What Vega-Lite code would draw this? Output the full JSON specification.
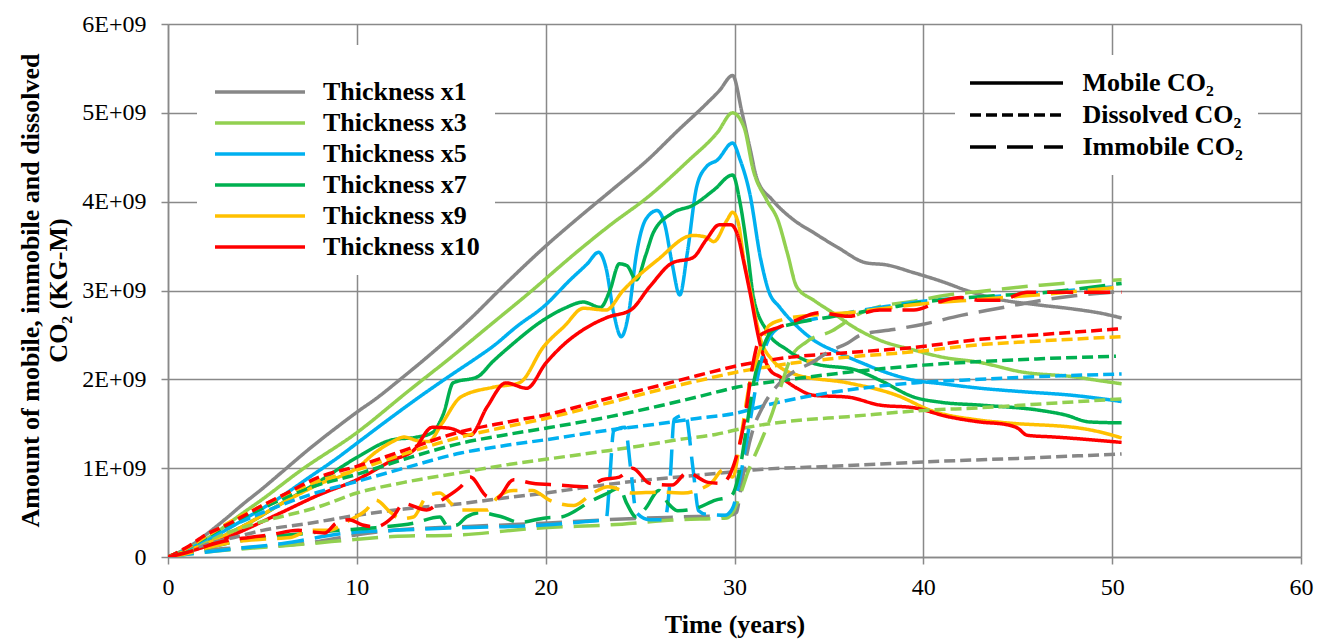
{
"$schema":"https://vega.github.io/schema/vega-lite/v6.json",
"width":1133,"height":533,
"autosize":{"type":"none"},
"padding":{"left":168,"top":24,"right":17,"bottom":82},
"background":"white",
"config":{"view":{"stroke":null},"font":"Liberation Serif"},
"datasets":{"pts":[
{"thick":"x1","type":"Mobile","t":0,"co2":0},{"thick":"x1","type":"Mobile","t":1,"co2":0.1},{"thick":"x1","type":"Mobile","t":2,"co2":0.25},{"thick":"x1","type":"Mobile","t":3,"co2":0.42},{"thick":"x1","type":"Mobile","t":4,"co2":0.6},{"thick":"x1","type":"Mobile","t":5,"co2":0.77},{"thick":"x1","type":"Mobile","t":6,"co2":0.95},{"thick":"x1","type":"Mobile","t":7.5,"co2":1.22},{"thick":"x1","type":"Mobile","t":9,"co2":1.47},{"thick":"x1","type":"Mobile","t":10,"co2":1.63},{"thick":"x1","type":"Mobile","t":11,"co2":1.78},{"thick":"x1","type":"Mobile","t":12.3,"co2":2.0},{"thick":"x1","type":"Mobile","t":14,"co2":2.3},{"thick":"x1","type":"Mobile","t":16,"co2":2.68},{"thick":"x1","type":"Mobile","t":18,"co2":3.1},{"thick":"x1","type":"Mobile","t":20,"co2":3.5},{"thick":"x1","type":"Mobile","t":21.8,"co2":3.83},{"thick":"x1","type":"Mobile","t":23.5,"co2":4.13},{"thick":"x1","type":"Mobile","t":25.4,"co2":4.47},{"thick":"x1","type":"Mobile","t":27,"co2":4.8},{"thick":"x1","type":"Mobile","t":28.5,"co2":5.1},{"thick":"x1","type":"Mobile","t":29.2,"co2":5.25},{"thick":"x1","type":"Mobile","t":29.9,"co2":5.42},{"thick":"x1","type":"Mobile","t":30.4,"co2":5.0},{"thick":"x1","type":"Mobile","t":30.8,"co2":4.62},{"thick":"x1","type":"Mobile","t":31.2,"co2":4.25},{"thick":"x1","type":"Mobile","t":32,"co2":4.02},{"thick":"x1","type":"Mobile","t":33.1,"co2":3.8},{"thick":"x1","type":"Mobile","t":34.2,"co2":3.65},{"thick":"x1","type":"Mobile","t":35.5,"co2":3.48},{"thick":"x1","type":"Mobile","t":37,"co2":3.31},{"thick":"x1","type":"Mobile","t":38,"co2":3.29},{"thick":"x1","type":"Mobile","t":39.5,"co2":3.2},{"thick":"x1","type":"Mobile","t":41,"co2":3.1},{"thick":"x1","type":"Mobile","t":42.3,"co2":3.0},{"thick":"x1","type":"Mobile","t":44,"co2":2.9},{"thick":"x1","type":"Mobile","t":46,"co2":2.84},{"thick":"x1","type":"Mobile","t":48,"co2":2.79},{"thick":"x1","type":"Mobile","t":49.5,"co2":2.74},{"thick":"x1","type":"Mobile","t":50.5,"co2":2.69},
{"thick":"x3","type":"Mobile","t":0,"co2":0},{"thick":"x3","type":"Mobile","t":2,"co2":0.2},{"thick":"x3","type":"Mobile","t":4,"co2":0.5},{"thick":"x3","type":"Mobile","t":5,"co2":0.65},{"thick":"x3","type":"Mobile","t":7,"co2":0.97},{"thick":"x3","type":"Mobile","t":10,"co2":1.4},{"thick":"x3","type":"Mobile","t":12.8,"co2":1.88},{"thick":"x3","type":"Mobile","t":15,"co2":2.25},{"thick":"x3","type":"Mobile","t":17,"co2":2.6},{"thick":"x3","type":"Mobile","t":19,"co2":2.95},{"thick":"x3","type":"Mobile","t":21.8,"co2":3.46},{"thick":"x3","type":"Mobile","t":23.5,"co2":3.75},{"thick":"x3","type":"Mobile","t":25.4,"co2":4.05},{"thick":"x3","type":"Mobile","t":27.5,"co2":4.45},{"thick":"x3","type":"Mobile","t":29.1,"co2":4.78},{"thick":"x3","type":"Mobile","t":29.9,"co2":5.0},{"thick":"x3","type":"Mobile","t":30.5,"co2":4.84},{"thick":"x3","type":"Mobile","t":31,"co2":4.35},{"thick":"x3","type":"Mobile","t":31.7,"co2":4.02},{"thick":"x3","type":"Mobile","t":32.3,"co2":3.79},{"thick":"x3","type":"Mobile","t":32.8,"co2":3.42},{"thick":"x3","type":"Mobile","t":33.3,"co2":3.04},{"thick":"x3","type":"Mobile","t":34.2,"co2":2.89},{"thick":"x3","type":"Mobile","t":35.2,"co2":2.75},{"thick":"x3","type":"Mobile","t":36.3,"co2":2.59},{"thick":"x3","type":"Mobile","t":37.7,"co2":2.44},{"thick":"x3","type":"Mobile","t":39.5,"co2":2.33},{"thick":"x3","type":"Mobile","t":41,"co2":2.25},{"thick":"x3","type":"Mobile","t":43,"co2":2.19},{"thick":"x3","type":"Mobile","t":45.3,"co2":2.08},{"thick":"x3","type":"Mobile","t":47.9,"co2":2.03},{"thick":"x3","type":"Mobile","t":49.5,"co2":1.98},{"thick":"x3","type":"Mobile","t":50.5,"co2":1.95},
{"thick":"x5","type":"Mobile","t":0,"co2":0},{"thick":"x5","type":"Mobile","t":2,"co2":0.18},{"thick":"x5","type":"Mobile","t":4,"co2":0.42},{"thick":"x5","type":"Mobile","t":6,"co2":0.68},{"thick":"x5","type":"Mobile","t":7.5,"co2":0.9},{"thick":"x5","type":"Mobile","t":9,"co2":1.12},{"thick":"x5","type":"Mobile","t":10,"co2":1.28},{"thick":"x5","type":"Mobile","t":11.5,"co2":1.52},{"thick":"x5","type":"Mobile","t":13.3,"co2":1.8},{"thick":"x5","type":"Mobile","t":15,"co2":2.05},{"thick":"x5","type":"Mobile","t":16.4,"co2":2.25},{"thick":"x5","type":"Mobile","t":17.2,"co2":2.37},{"thick":"x5","type":"Mobile","t":18.5,"co2":2.6},{"thick":"x5","type":"Mobile","t":19.9,"co2":2.82},{"thick":"x5","type":"Mobile","t":21.3,"co2":3.12},{"thick":"x5","type":"Mobile","t":22.2,"co2":3.3},{"thick":"x5","type":"Mobile","t":22.8,"co2":3.43},{"thick":"x5","type":"Mobile","t":23.2,"co2":3.25},{"thick":"x5","type":"Mobile","t":23.6,"co2":2.75},{"thick":"x5","type":"Mobile","t":24,"co2":2.48},{"thick":"x5","type":"Mobile","t":24.4,"co2":2.75},{"thick":"x5","type":"Mobile","t":24.8,"co2":3.4},{"thick":"x5","type":"Mobile","t":25.3,"co2":3.8},{"thick":"x5","type":"Mobile","t":25.9,"co2":3.9},{"thick":"x5","type":"Mobile","t":26.3,"co2":3.75},{"thick":"x5","type":"Mobile","t":26.7,"co2":3.3},{"thick":"x5","type":"Mobile","t":27.1,"co2":2.95},{"thick":"x5","type":"Mobile","t":27.5,"co2":3.42},{"thick":"x5","type":"Mobile","t":28,"co2":4.17},{"thick":"x5","type":"Mobile","t":28.5,"co2":4.39},{"thick":"x5","type":"Mobile","t":29.1,"co2":4.47},{"thick":"x5","type":"Mobile","t":29.9,"co2":4.66},{"thick":"x5","type":"Mobile","t":30.3,"co2":4.47},{"thick":"x5","type":"Mobile","t":30.8,"co2":4.1},{"thick":"x5","type":"Mobile","t":31.4,"co2":3.34},{"thick":"x5","type":"Mobile","t":31.8,"co2":3.0},{"thick":"x5","type":"Mobile","t":32.4,"co2":2.81},{"thick":"x5","type":"Mobile","t":33.3,"co2":2.6},{"thick":"x5","type":"Mobile","t":34.2,"co2":2.44},{"thick":"x5","type":"Mobile","t":35.5,"co2":2.3},{"thick":"x5","type":"Mobile","t":36.8,"co2":2.18},{"thick":"x5","type":"Mobile","t":38,"co2":2.08},{"thick":"x5","type":"Mobile","t":39.5,"co2":1.99},{"thick":"x5","type":"Mobile","t":41,"co2":1.95},{"thick":"x5","type":"Mobile","t":43,"co2":1.9},{"thick":"x5","type":"Mobile","t":45.3,"co2":1.86},{"thick":"x5","type":"Mobile","t":47.9,"co2":1.82},{"thick":"x5","type":"Mobile","t":49.5,"co2":1.78},{"thick":"x5","type":"Mobile","t":50.5,"co2":1.75},
{"thick":"x7","type":"Mobile","t":0,"co2":0},{"thick":"x7","type":"Mobile","t":2,"co2":0.15},{"thick":"x7","type":"Mobile","t":4,"co2":0.35},{"thick":"x7","type":"Mobile","t":6,"co2":0.6},{"thick":"x7","type":"Mobile","t":8,"co2":0.85},{"thick":"x7","type":"Mobile","t":10,"co2":1.12},{"thick":"x7","type":"Mobile","t":11.9,"co2":1.32},{"thick":"x7","type":"Mobile","t":13.2,"co2":1.35},{"thick":"x7","type":"Mobile","t":14,"co2":1.4},{"thick":"x7","type":"Mobile","t":14.6,"co2":1.62},{"thick":"x7","type":"Mobile","t":15.1,"co2":1.96},{"thick":"x7","type":"Mobile","t":16.4,"co2":2.03},{"thick":"x7","type":"Mobile","t":17.2,"co2":2.2},{"thick":"x7","type":"Mobile","t":18.1,"co2":2.37},{"thick":"x7","type":"Mobile","t":19.9,"co2":2.67},{"thick":"x7","type":"Mobile","t":21,"co2":2.8},{"thick":"x7","type":"Mobile","t":22,"co2":2.87},{"thick":"x7","type":"Mobile","t":22.9,"co2":2.81},{"thick":"x7","type":"Mobile","t":23.4,"co2":3.0},{"thick":"x7","type":"Mobile","t":23.9,"co2":3.3},{"thick":"x7","type":"Mobile","t":24.3,"co2":3.28},{"thick":"x7","type":"Mobile","t":24.8,"co2":3.12},{"thick":"x7","type":"Mobile","t":25.3,"co2":3.4},{"thick":"x7","type":"Mobile","t":25.7,"co2":3.65},{"thick":"x7","type":"Mobile","t":26.7,"co2":3.87},{"thick":"x7","type":"Mobile","t":27.8,"co2":3.96},{"thick":"x7","type":"Mobile","t":28.9,"co2":4.13},{"thick":"x7","type":"Mobile","t":29.9,"co2":4.3},{"thick":"x7","type":"Mobile","t":30.3,"co2":3.98},{"thick":"x7","type":"Mobile","t":30.7,"co2":3.42},{"thick":"x7","type":"Mobile","t":31,"co2":2.93},{"thick":"x7","type":"Mobile","t":31.7,"co2":2.55},{"thick":"x7","type":"Mobile","t":32.8,"co2":2.33},{"thick":"x7","type":"Mobile","t":34.2,"co2":2.18},{"thick":"x7","type":"Mobile","t":36.5,"co2":2.1},{"thick":"x7","type":"Mobile","t":37.7,"co2":1.99},{"thick":"x7","type":"Mobile","t":39.5,"co2":1.8},{"thick":"x7","type":"Mobile","t":41,"co2":1.74},{"thick":"x7","type":"Mobile","t":43,"co2":1.71},{"thick":"x7","type":"Mobile","t":46.2,"co2":1.65},{"thick":"x7","type":"Mobile","t":47.5,"co2":1.6},{"thick":"x7","type":"Mobile","t":48.8,"co2":1.52},{"thick":"x7","type":"Mobile","t":50.5,"co2":1.51},
{"thick":"x9","type":"Mobile","t":0,"co2":0},{"thick":"x9","type":"Mobile","t":2,"co2":0.15},{"thick":"x9","type":"Mobile","t":4,"co2":0.35},{"thick":"x9","type":"Mobile","t":6,"co2":0.6},{"thick":"x9","type":"Mobile","t":8,"co2":0.82},{"thick":"x9","type":"Mobile","t":10,"co2":1.0},{"thick":"x9","type":"Mobile","t":11,"co2":1.18},{"thick":"x9","type":"Mobile","t":11.9,"co2":1.3},{"thick":"x9","type":"Mobile","t":12.5,"co2":1.35},{"thick":"x9","type":"Mobile","t":13.2,"co2":1.31},{"thick":"x9","type":"Mobile","t":13.8,"co2":1.3},{"thick":"x9","type":"Mobile","t":14.5,"co2":1.5},{"thick":"x9","type":"Mobile","t":15.5,"co2":1.8},{"thick":"x9","type":"Mobile","t":17.2,"co2":1.91},{"thick":"x9","type":"Mobile","t":18.6,"co2":1.96},{"thick":"x9","type":"Mobile","t":19.9,"co2":2.37},{"thick":"x9","type":"Mobile","t":21,"co2":2.6},{"thick":"x9","type":"Mobile","t":22,"co2":2.8},{"thick":"x9","type":"Mobile","t":23.2,"co2":2.78},{"thick":"x9","type":"Mobile","t":24.1,"co2":3.0},{"thick":"x9","type":"Mobile","t":25.9,"co2":3.34},{"thick":"x9","type":"Mobile","t":27.8,"co2":3.62},{"thick":"x9","type":"Mobile","t":28.5,"co2":3.6},{"thick":"x9","type":"Mobile","t":28.9,"co2":3.55},{"thick":"x9","type":"Mobile","t":29.6,"co2":3.79},{"thick":"x9","type":"Mobile","t":29.9,"co2":3.88},{"thick":"x9","type":"Mobile","t":30.2,"co2":3.76},{"thick":"x9","type":"Mobile","t":30.5,"co2":3.34},{"thick":"x9","type":"Mobile","t":30.8,"co2":3.04},{"thick":"x9","type":"Mobile","t":31.4,"co2":2.44},{"thick":"x9","type":"Mobile","t":32,"co2":2.22},{"thick":"x9","type":"Mobile","t":33.3,"co2":2.05},{"thick":"x9","type":"Mobile","t":36,"co2":1.96},{"thick":"x9","type":"Mobile","t":38.6,"co2":1.82},{"thick":"x9","type":"Mobile","t":40.4,"co2":1.65},{"thick":"x9","type":"Mobile","t":43,"co2":1.54},{"thick":"x9","type":"Mobile","t":44.4,"co2":1.51},{"thick":"x9","type":"Mobile","t":48.3,"co2":1.45},{"thick":"x9","type":"Mobile","t":49.5,"co2":1.4},{"thick":"x9","type":"Mobile","t":50.5,"co2":1.34},
{"thick":"x10","type":"Mobile","t":0,"co2":0},{"thick":"x10","type":"Mobile","t":2,"co2":0.12},{"thick":"x10","type":"Mobile","t":4,"co2":0.3},{"thick":"x10","type":"Mobile","t":6,"co2":0.5},{"thick":"x10","type":"Mobile","t":8,"co2":0.7},{"thick":"x10","type":"Mobile","t":10,"co2":0.87},{"thick":"x10","type":"Mobile","t":11.9,"co2":1.09},{"thick":"x10","type":"Mobile","t":13,"co2":1.2},{"thick":"x10","type":"Mobile","t":14,"co2":1.46},{"thick":"x10","type":"Mobile","t":14.9,"co2":1.45},{"thick":"x10","type":"Mobile","t":16,"co2":1.37},{"thick":"x10","type":"Mobile","t":16.9,"co2":1.69},{"thick":"x10","type":"Mobile","t":17.9,"co2":1.96},{"thick":"x10","type":"Mobile","t":19,"co2":1.9},{"thick":"x10","type":"Mobile","t":20,"co2":2.18},{"thick":"x10","type":"Mobile","t":21,"co2":2.4},{"thick":"x10","type":"Mobile","t":22,"co2":2.56},{"thick":"x10","type":"Mobile","t":23.3,"co2":2.7},{"thick":"x10","type":"Mobile","t":24.5,"co2":2.78},{"thick":"x10","type":"Mobile","t":25.5,"co2":3.04},{"thick":"x10","type":"Mobile","t":26.7,"co2":3.31},{"thick":"x10","type":"Mobile","t":27.8,"co2":3.37},{"thick":"x10","type":"Mobile","t":28.5,"co2":3.57},{"thick":"x10","type":"Mobile","t":29.2,"co2":3.74},{"thick":"x10","type":"Mobile","t":29.8,"co2":3.74},{"thick":"x10","type":"Mobile","t":30.2,"co2":3.6},{"thick":"x10","type":"Mobile","t":30.5,"co2":3.31},{"thick":"x10","type":"Mobile","t":30.8,"co2":3.0},{"thick":"x10","type":"Mobile","t":31.4,"co2":2.36},{"thick":"x10","type":"Mobile","t":31.9,"co2":2.1},{"thick":"x10","type":"Mobile","t":32.4,"co2":2.03},{"thick":"x10","type":"Mobile","t":33.3,"co2":1.9},{"thick":"x10","type":"Mobile","t":34.2,"co2":1.82},{"thick":"x10","type":"Mobile","t":36,"co2":1.8},{"thick":"x10","type":"Mobile","t":37.7,"co2":1.71},{"thick":"x10","type":"Mobile","t":39.5,"co2":1.68},{"thick":"x10","type":"Mobile","t":41.3,"co2":1.58},{"thick":"x10","type":"Mobile","t":43,"co2":1.52},{"thick":"x10","type":"Mobile","t":44.4,"co2":1.49},{"thick":"x10","type":"Mobile","t":45,"co2":1.45},{"thick":"x10","type":"Mobile","t":45.5,"co2":1.37},{"thick":"x10","type":"Mobile","t":47,"co2":1.35},{"thick":"x10","type":"Mobile","t":50.5,"co2":1.29},
{"thick":"x1","type":"Dissolved","t":0,"co2":0},{"thick":"x1","type":"Dissolved","t":1,"co2":0.07},{"thick":"x1","type":"Dissolved","t":2,"co2":0.14},{"thick":"x1","type":"Dissolved","t":3.5,"co2":0.22},{"thick":"x1","type":"Dissolved","t":5,"co2":0.3},{"thick":"x1","type":"Dissolved","t":7.5,"co2":0.38},{"thick":"x1","type":"Dissolved","t":10,"co2":0.47},{"thick":"x1","type":"Dissolved","t":12.5,"co2":0.54},{"thick":"x1","type":"Dissolved","t":15.5,"co2":0.6},{"thick":"x1","type":"Dissolved","t":18,"co2":0.67},{"thick":"x1","type":"Dissolved","t":20,"co2":0.72},{"thick":"x1","type":"Dissolved","t":22,"co2":0.78},{"thick":"x1","type":"Dissolved","t":25,"co2":0.86},{"thick":"x1","type":"Dissolved","t":28,"co2":0.92},{"thick":"x1","type":"Dissolved","t":30,"co2":0.96},{"thick":"x1","type":"Dissolved","t":31,"co2":0.98},{"thick":"x1","type":"Dissolved","t":35,"co2":1.02},{"thick":"x1","type":"Dissolved","t":40,"co2":1.07},{"thick":"x1","type":"Dissolved","t":45,"co2":1.11},{"thick":"x1","type":"Dissolved","t":50.5,"co2":1.16},
{"thick":"x3","type":"Dissolved","t":0,"co2":0},{"thick":"x3","type":"Dissolved","t":1,"co2":0.08},{"thick":"x3","type":"Dissolved","t":2,"co2":0.18},{"thick":"x3","type":"Dissolved","t":3.5,"co2":0.3},{"thick":"x3","type":"Dissolved","t":5,"co2":0.4},{"thick":"x3","type":"Dissolved","t":7.9,"co2":0.56},{"thick":"x3","type":"Dissolved","t":10,"co2":0.72},{"thick":"x3","type":"Dissolved","t":12.5,"co2":0.84},{"thick":"x3","type":"Dissolved","t":15.5,"co2":0.95},{"thick":"x3","type":"Dissolved","t":18,"co2":1.04},{"thick":"x3","type":"Dissolved","t":20,"co2":1.1},{"thick":"x3","type":"Dissolved","t":23.4,"co2":1.2},{"thick":"x3","type":"Dissolved","t":25,"co2":1.25},{"thick":"x3","type":"Dissolved","t":27,"co2":1.32},{"thick":"x3","type":"Dissolved","t":29,"co2":1.38},{"thick":"x3","type":"Dissolved","t":30.7,"co2":1.46},{"thick":"x3","type":"Dissolved","t":33,"co2":1.53},{"thick":"x3","type":"Dissolved","t":36,"co2":1.58},{"thick":"x3","type":"Dissolved","t":40,"co2":1.65},{"thick":"x3","type":"Dissolved","t":43,"co2":1.68},{"thick":"x3","type":"Dissolved","t":46,"co2":1.72},{"thick":"x3","type":"Dissolved","t":50.5,"co2":1.78},
{"thick":"x5","type":"Dissolved","t":0,"co2":0},{"thick":"x5","type":"Dissolved","t":1,"co2":0.09},{"thick":"x5","type":"Dissolved","t":2,"co2":0.2},{"thick":"x5","type":"Dissolved","t":3.5,"co2":0.36},{"thick":"x5","type":"Dissolved","t":5,"co2":0.5},{"thick":"x5","type":"Dissolved","t":7.5,"co2":0.7},{"thick":"x5","type":"Dissolved","t":10,"co2":0.85},{"thick":"x5","type":"Dissolved","t":12.5,"co2":1.0},{"thick":"x5","type":"Dissolved","t":15.5,"co2":1.17},{"thick":"x5","type":"Dissolved","t":18,"co2":1.26},{"thick":"x5","type":"Dissolved","t":20,"co2":1.32},{"thick":"x5","type":"Dissolved","t":23.4,"co2":1.43},{"thick":"x5","type":"Dissolved","t":26,"co2":1.5},{"thick":"x5","type":"Dissolved","t":28,"co2":1.56},{"thick":"x5","type":"Dissolved","t":30.1,"co2":1.62},{"thick":"x5","type":"Dissolved","t":31.7,"co2":1.71},{"thick":"x5","type":"Dissolved","t":34.2,"co2":1.82},{"thick":"x5","type":"Dissolved","t":36,"co2":1.88},{"thick":"x5","type":"Dissolved","t":39.5,"co2":1.96},{"thick":"x5","type":"Dissolved","t":43,"co2":2.0},{"thick":"x5","type":"Dissolved","t":46,"co2":2.03},{"thick":"x5","type":"Dissolved","t":50.5,"co2":2.06},
{"thick":"x7","type":"Dissolved","t":0,"co2":0},{"thick":"x7","type":"Dissolved","t":1,"co2":0.1},{"thick":"x7","type":"Dissolved","t":2,"co2":0.22},{"thick":"x7","type":"Dissolved","t":3.5,"co2":0.4},{"thick":"x7","type":"Dissolved","t":5,"co2":0.55},{"thick":"x7","type":"Dissolved","t":7.5,"co2":0.78},{"thick":"x7","type":"Dissolved","t":10,"co2":0.93},{"thick":"x7","type":"Dissolved","t":12.5,"co2":1.1},{"thick":"x7","type":"Dissolved","t":15.5,"co2":1.28},{"thick":"x7","type":"Dissolved","t":18,"co2":1.38},{"thick":"x7","type":"Dissolved","t":20,"co2":1.45},{"thick":"x7","type":"Dissolved","t":23.4,"co2":1.58},{"thick":"x7","type":"Dissolved","t":26,"co2":1.7},{"thick":"x7","type":"Dissolved","t":28,"co2":1.8},{"thick":"x7","type":"Dissolved","t":30.1,"co2":1.91},{"thick":"x7","type":"Dissolved","t":33,"co2":2.0},{"thick":"x7","type":"Dissolved","t":36,"co2":2.08},{"thick":"x7","type":"Dissolved","t":40,"co2":2.16},{"thick":"x7","type":"Dissolved","t":43,"co2":2.2},{"thick":"x7","type":"Dissolved","t":46,"co2":2.23},{"thick":"x7","type":"Dissolved","t":50.2,"co2":2.26},
{"thick":"x9","type":"Dissolved","t":0,"co2":0},{"thick":"x9","type":"Dissolved","t":1,"co2":0.1},{"thick":"x9","type":"Dissolved","t":2,"co2":0.23},{"thick":"x9","type":"Dissolved","t":3.5,"co2":0.42},{"thick":"x9","type":"Dissolved","t":5,"co2":0.58},{"thick":"x9","type":"Dissolved","t":7.5,"co2":0.82},{"thick":"x9","type":"Dissolved","t":10,"co2":0.98},{"thick":"x9","type":"Dissolved","t":12.5,"co2":1.16},{"thick":"x9","type":"Dissolved","t":15.5,"co2":1.35},{"thick":"x9","type":"Dissolved","t":18,"co2":1.47},{"thick":"x9","type":"Dissolved","t":20,"co2":1.56},{"thick":"x9","type":"Dissolved","t":23.4,"co2":1.74},{"thick":"x9","type":"Dissolved","t":26,"co2":1.88},{"thick":"x9","type":"Dissolved","t":28,"co2":1.98},{"thick":"x9","type":"Dissolved","t":30.1,"co2":2.08},{"thick":"x9","type":"Dissolved","t":33,"co2":2.18},{"thick":"x9","type":"Dissolved","t":36,"co2":2.25},{"thick":"x9","type":"Dissolved","t":39.5,"co2":2.31},{"thick":"x9","type":"Dissolved","t":43,"co2":2.39},{"thick":"x9","type":"Dissolved","t":46,"co2":2.43},{"thick":"x9","type":"Dissolved","t":50.5,"co2":2.48},
{"thick":"x10","type":"Dissolved","t":0,"co2":0},{"thick":"x10","type":"Dissolved","t":1,"co2":0.11},{"thick":"x10","type":"Dissolved","t":2,"co2":0.25},{"thick":"x10","type":"Dissolved","t":3.1,"co2":0.36},{"thick":"x10","type":"Dissolved","t":5,"co2":0.58},{"thick":"x10","type":"Dissolved","t":6.3,"co2":0.72},{"thick":"x10","type":"Dissolved","t":8,"co2":0.9},{"thick":"x10","type":"Dissolved","t":10,"co2":1.02},{"thick":"x10","type":"Dissolved","t":12.5,"co2":1.2},{"thick":"x10","type":"Dissolved","t":15.5,"co2":1.41},{"thick":"x10","type":"Dissolved","t":18,"co2":1.52},{"thick":"x10","type":"Dissolved","t":20,"co2":1.6},{"thick":"x10","type":"Dissolved","t":23.4,"co2":1.79},{"thick":"x10","type":"Dissolved","t":26,"co2":1.93},{"thick":"x10","type":"Dissolved","t":28,"co2":2.04},{"thick":"x10","type":"Dissolved","t":30.1,"co2":2.15},{"thick":"x10","type":"Dissolved","t":33,"co2":2.25},{"thick":"x10","type":"Dissolved","t":36,"co2":2.3},{"thick":"x10","type":"Dissolved","t":39.5,"co2":2.36},{"thick":"x10","type":"Dissolved","t":43,"co2":2.45},{"thick":"x10","type":"Dissolved","t":46,"co2":2.5},{"thick":"x10","type":"Dissolved","t":50.5,"co2":2.57},
{"thick":"x1","type":"Immobile","t":0,"co2":0},{"thick":"x1","type":"Immobile","t":1,"co2":0.04},{"thick":"x1","type":"Immobile","t":2.2,"co2":0.08},{"thick":"x1","type":"Immobile","t":4.5,"co2":0.11},{"thick":"x1","type":"Immobile","t":7.5,"co2":0.16},{"thick":"x1","type":"Immobile","t":10,"co2":0.25},{"thick":"x1","type":"Immobile","t":11.9,"co2":0.3},{"thick":"x1","type":"Immobile","t":15.5,"co2":0.34},{"thick":"x1","type":"Immobile","t":19.9,"co2":0.38},{"thick":"x1","type":"Immobile","t":23.3,"co2":0.42},{"thick":"x1","type":"Immobile","t":27,"co2":0.45},{"thick":"x1","type":"Immobile","t":29.8,"co2":0.47},{"thick":"x1","type":"Immobile","t":30.1,"co2":0.5},{"thick":"x1","type":"Immobile","t":30.3,"co2":0.72},{"thick":"x1","type":"Immobile","t":30.6,"co2":1.1},{"thick":"x1","type":"Immobile","t":31,"co2":1.45},{"thick":"x1","type":"Immobile","t":31.4,"co2":1.65},{"thick":"x1","type":"Immobile","t":32.4,"co2":1.96},{"thick":"x1","type":"Immobile","t":33.1,"co2":2.08},{"thick":"x1","type":"Immobile","t":34.2,"co2":2.2},{"thick":"x1","type":"Immobile","t":34.9,"co2":2.3},{"thick":"x1","type":"Immobile","t":36,"co2":2.41},{"thick":"x1","type":"Immobile","t":36.7,"co2":2.5},{"thick":"x1","type":"Immobile","t":38.4,"co2":2.56},{"thick":"x1","type":"Immobile","t":40,"co2":2.62},{"thick":"x1","type":"Immobile","t":42,"co2":2.72},{"thick":"x1","type":"Immobile","t":44,"co2":2.8},{"thick":"x1","type":"Immobile","t":46,"co2":2.88},{"thick":"x1","type":"Immobile","t":48,"co2":2.94},{"thick":"x1","type":"Immobile","t":50.5,"co2":2.99},
{"thick":"x3","type":"Immobile","t":0,"co2":0},{"thick":"x3","type":"Immobile","t":1,"co2":0.03},{"thick":"x3","type":"Immobile","t":2.2,"co2":0.06},{"thick":"x3","type":"Immobile","t":4.5,"co2":0.1},{"thick":"x3","type":"Immobile","t":7.5,"co2":0.15},{"thick":"x3","type":"Immobile","t":10,"co2":0.2},{"thick":"x3","type":"Immobile","t":11.9,"co2":0.23},{"thick":"x3","type":"Immobile","t":15.5,"co2":0.25},{"thick":"x3","type":"Immobile","t":19.9,"co2":0.33},{"thick":"x3","type":"Immobile","t":23.3,"co2":0.36},{"thick":"x3","type":"Immobile","t":27.1,"co2":0.42},{"thick":"x3","type":"Immobile","t":29.6,"co2":0.44},{"thick":"x3","type":"Immobile","t":29.9,"co2":0.5},{"thick":"x3","type":"Immobile","t":30.3,"co2":0.7},{"thick":"x3","type":"Immobile","t":30.7,"co2":0.95},{"thick":"x3","type":"Immobile","t":31.4,"co2":1.3},{"thick":"x3","type":"Immobile","t":32,"co2":1.62},{"thick":"x3","type":"Immobile","t":32.5,"co2":1.95},{"thick":"x3","type":"Immobile","t":33,"co2":2.25},{"thick":"x3","type":"Immobile","t":33.8,"co2":2.42},{"thick":"x3","type":"Immobile","t":35.2,"co2":2.55},{"thick":"x3","type":"Immobile","t":36,"co2":2.66},{"thick":"x3","type":"Immobile","t":36.8,"co2":2.76},{"thick":"x3","type":"Immobile","t":37.7,"co2":2.82},{"thick":"x3","type":"Immobile","t":39.5,"co2":2.88},{"thick":"x3","type":"Immobile","t":41.3,"co2":2.95},{"thick":"x3","type":"Immobile","t":43,"co2":2.99},{"thick":"x3","type":"Immobile","t":46.2,"co2":3.06},{"thick":"x3","type":"Immobile","t":48,"co2":3.09},{"thick":"x3","type":"Immobile","t":50.5,"co2":3.12},
{"thick":"x5","type":"Immobile","t":0,"co2":0},{"thick":"x5","type":"Immobile","t":1,"co2":0.03},{"thick":"x5","type":"Immobile","t":3,"co2":0.08},{"thick":"x5","type":"Immobile","t":6,"co2":0.15},{"thick":"x5","type":"Immobile","t":9.5,"co2":0.27},{"thick":"x5","type":"Immobile","t":12,"co2":0.3},{"thick":"x5","type":"Immobile","t":15.5,"co2":0.33},{"thick":"x5","type":"Immobile","t":19.9,"co2":0.36},{"thick":"x5","type":"Immobile","t":22.2,"co2":0.4},{"thick":"x5","type":"Immobile","t":23.2,"co2":0.42},{"thick":"x5","type":"Immobile","t":23.4,"co2":0.9},{"thick":"x5","type":"Immobile","t":23.6,"co2":1.42},{"thick":"x5","type":"Immobile","t":24.2,"co2":1.46},{"thick":"x5","type":"Immobile","t":24.5,"co2":1.0},{"thick":"x5","type":"Immobile","t":24.8,"co2":0.5},{"thick":"x5","type":"Immobile","t":25.5,"co2":0.42},{"thick":"x5","type":"Immobile","t":26.3,"co2":0.42},{"thick":"x5","type":"Immobile","t":26.6,"co2":0.9},{"thick":"x5","type":"Immobile","t":26.8,"co2":1.55},{"thick":"x5","type":"Immobile","t":27.4,"co2":1.6},{"thick":"x5","type":"Immobile","t":27.8,"co2":1.0},{"thick":"x5","type":"Immobile","t":28.1,"co2":0.52},{"thick":"x5","type":"Immobile","t":28.5,"co2":0.48},{"thick":"x5","type":"Immobile","t":29.5,"co2":0.47},{"thick":"x5","type":"Immobile","t":29.9,"co2":0.55},{"thick":"x5","type":"Immobile","t":30.3,"co2":0.9},{"thick":"x5","type":"Immobile","t":30.8,"co2":1.5},{"thick":"x5","type":"Immobile","t":31.3,"co2":2.1},{"thick":"x5","type":"Immobile","t":31.8,"co2":2.45},{"thick":"x5","type":"Immobile","t":32.5,"co2":2.6},{"thick":"x5","type":"Immobile","t":34,"co2":2.67},{"thick":"x5","type":"Immobile","t":36,"co2":2.75},{"thick":"x5","type":"Immobile","t":38,"co2":2.82},{"thick":"x5","type":"Immobile","t":40,"co2":2.88},{"thick":"x5","type":"Immobile","t":43,"co2":2.92},{"thick":"x5","type":"Immobile","t":46,"co2":2.97},{"thick":"x5","type":"Immobile","t":50.5,"co2":3.05},
{"thick":"x7","type":"Immobile","t":0,"co2":0},{"thick":"x7","type":"Immobile","t":1,"co2":0.05},{"thick":"x7","type":"Immobile","t":2,"co2":0.1},{"thick":"x7","type":"Immobile","t":3.5,"co2":0.17},{"thick":"x7","type":"Immobile","t":5,"co2":0.22},{"thick":"x7","type":"Immobile","t":7,"co2":0.26},{"thick":"x7","type":"Immobile","t":9,"co2":0.3},{"thick":"x7","type":"Immobile","t":11,"co2":0.33},{"thick":"x7","type":"Immobile","t":13,"co2":0.38},{"thick":"x7","type":"Immobile","t":14.4,"co2":0.45},{"thick":"x7","type":"Immobile","t":14.8,"co2":0.35},{"thick":"x7","type":"Immobile","t":15.3,"co2":0.36},{"thick":"x7","type":"Immobile","t":15.8,"co2":0.45},{"thick":"x7","type":"Immobile","t":16.5,"co2":0.5},{"thick":"x7","type":"Immobile","t":17.7,"co2":0.45},{"thick":"x7","type":"Immobile","t":18.6,"co2":0.39},{"thick":"x7","type":"Immobile","t":20,"co2":0.44},{"thick":"x7","type":"Immobile","t":20.8,"co2":0.45},{"thick":"x7","type":"Immobile","t":22.5,"co2":0.64},{"thick":"x7","type":"Immobile","t":23.3,"co2":0.72},{"thick":"x7","type":"Immobile","t":23.9,"co2":0.78},{"thick":"x7","type":"Immobile","t":24.3,"co2":0.6},{"thick":"x7","type":"Immobile","t":24.8,"co2":0.45},{"thick":"x7","type":"Immobile","t":25.3,"co2":0.55},{"thick":"x7","type":"Immobile","t":26,"co2":0.75},{"thick":"x7","type":"Immobile","t":26.5,"co2":0.6},{"thick":"x7","type":"Immobile","t":27,"co2":0.52},{"thick":"x7","type":"Immobile","t":28,"co2":0.55},{"thick":"x7","type":"Immobile","t":29,"co2":0.64},{"thick":"x7","type":"Immobile","t":29.8,"co2":0.68},{"thick":"x7","type":"Immobile","t":30.2,"co2":0.9},{"thick":"x7","type":"Immobile","t":30.6,"co2":1.4},{"thick":"x7","type":"Immobile","t":31,"co2":1.95},{"thick":"x7","type":"Immobile","t":31.5,"co2":2.35},{"thick":"x7","type":"Immobile","t":32,"co2":2.55},{"thick":"x7","type":"Immobile","t":33,"co2":2.62},{"thick":"x7","type":"Immobile","t":35,"co2":2.7},{"thick":"x7","type":"Immobile","t":38,"co2":2.8},{"thick":"x7","type":"Immobile","t":40,"co2":2.87},{"thick":"x7","type":"Immobile","t":43,"co2":2.93},{"thick":"x7","type":"Immobile","t":46,"co2":2.97},{"thick":"x7","type":"Immobile","t":50.5,"co2":3.08},
{"thick":"x9","type":"Immobile","t":0,"co2":0},{"thick":"x9","type":"Immobile","t":1,"co2":0.04},{"thick":"x9","type":"Immobile","t":2,"co2":0.1},{"thick":"x9","type":"Immobile","t":3.5,"co2":0.17},{"thick":"x9","type":"Immobile","t":5,"co2":0.2},{"thick":"x9","type":"Immobile","t":6.5,"co2":0.22},{"thick":"x9","type":"Immobile","t":7.5,"co2":0.3},{"thick":"x9","type":"Immobile","t":8.5,"co2":0.3},{"thick":"x9","type":"Immobile","t":9.5,"co2":0.4},{"thick":"x9","type":"Immobile","t":10.5,"co2":0.53},{"thick":"x9","type":"Immobile","t":11,"co2":0.64},{"thick":"x9","type":"Immobile","t":11.8,"co2":0.5},{"thick":"x9","type":"Immobile","t":12.3,"co2":0.43},{"thick":"x9","type":"Immobile","t":13,"co2":0.45},{"thick":"x9","type":"Immobile","t":13.7,"co2":0.68},{"thick":"x9","type":"Immobile","t":14.4,"co2":0.72},{"thick":"x9","type":"Immobile","t":15,"co2":0.6},{"thick":"x9","type":"Immobile","t":15.5,"co2":0.53},{"thick":"x9","type":"Immobile","t":16.9,"co2":0.53},{"thick":"x9","type":"Immobile","t":17.4,"co2":0.66},{"thick":"x9","type":"Immobile","t":18.3,"co2":0.75},{"thick":"x9","type":"Immobile","t":19.3,"co2":0.75},{"thick":"x9","type":"Immobile","t":20.2,"co2":0.64},{"thick":"x9","type":"Immobile","t":21.5,"co2":0.58},{"thick":"x9","type":"Immobile","t":22.5,"co2":0.72},{"thick":"x9","type":"Immobile","t":23.3,"co2":0.79},{"thick":"x9","type":"Immobile","t":24.6,"co2":0.72},{"thick":"x9","type":"Immobile","t":26,"co2":0.73},{"thick":"x9","type":"Immobile","t":27.3,"co2":0.72},{"thick":"x9","type":"Immobile","t":28,"co2":0.75},{"thick":"x9","type":"Immobile","t":28.8,"co2":0.84},{"thick":"x9","type":"Immobile","t":29.4,"co2":0.98},{"thick":"x9","type":"Immobile","t":29.9,"co2":0.9},{"thick":"x9","type":"Immobile","t":30.3,"co2":1.3},{"thick":"x9","type":"Immobile","t":30.8,"co2":1.95},{"thick":"x9","type":"Immobile","t":31.3,"co2":2.3},{"thick":"x9","type":"Immobile","t":31.8,"co2":2.6},{"thick":"x9","type":"Immobile","t":32.5,"co2":2.67},{"thick":"x9","type":"Immobile","t":34,"co2":2.72},{"thick":"x9","type":"Immobile","t":36,"co2":2.75},{"thick":"x9","type":"Immobile","t":38,"co2":2.8},{"thick":"x9","type":"Immobile","t":40,"co2":2.85},{"thick":"x9","type":"Immobile","t":43,"co2":2.9},{"thick":"x9","type":"Immobile","t":46,"co2":2.95},{"thick":"x9","type":"Immobile","t":50.5,"co2":3.04},
{"thick":"x10","type":"Immobile","t":0,"co2":0},{"thick":"x10","type":"Immobile","t":1,"co2":0.05},{"thick":"x10","type":"Immobile","t":2,"co2":0.12},{"thick":"x10","type":"Immobile","t":3,"co2":0.18},{"thick":"x10","type":"Immobile","t":4.3,"co2":0.22},{"thick":"x10","type":"Immobile","t":5.4,"co2":0.25},{"thick":"x10","type":"Immobile","t":6.9,"co2":0.3},{"thick":"x10","type":"Immobile","t":8.3,"co2":0.27},{"thick":"x10","type":"Immobile","t":8.9,"co2":0.38},{"thick":"x10","type":"Immobile","t":9.6,"co2":0.42},{"thick":"x10","type":"Immobile","t":10.3,"co2":0.36},{"thick":"x10","type":"Immobile","t":11,"co2":0.34},{"thick":"x10","type":"Immobile","t":11.9,"co2":0.45},{"thick":"x10","type":"Immobile","t":12.5,"co2":0.6},{"thick":"x10","type":"Immobile","t":13.7,"co2":0.53},{"thick":"x10","type":"Immobile","t":14.5,"co2":0.64},{"thick":"x10","type":"Immobile","t":15.5,"co2":0.79},{"thick":"x10","type":"Immobile","t":16,"co2":0.9},{"thick":"x10","type":"Immobile","t":16.9,"co2":0.68},{"thick":"x10","type":"Immobile","t":17.4,"co2":0.66},{"thick":"x10","type":"Immobile","t":18.3,"co2":0.87},{"thick":"x10","type":"Immobile","t":19.3,"co2":0.83},{"thick":"x10","type":"Immobile","t":20.7,"co2":0.81},{"thick":"x10","type":"Immobile","t":22.2,"co2":0.79},{"thick":"x10","type":"Immobile","t":23,"co2":0.87},{"thick":"x10","type":"Immobile","t":23.9,"co2":0.9},{"thick":"x10","type":"Immobile","t":24.6,"co2":1.0},{"thick":"x10","type":"Immobile","t":25.5,"co2":0.83},{"thick":"x10","type":"Immobile","t":26.7,"co2":0.81},{"thick":"x10","type":"Immobile","t":27.5,"co2":0.95},{"thick":"x10","type":"Immobile","t":28.6,"co2":0.84},{"thick":"x10","type":"Immobile","t":29.3,"co2":0.83},{"thick":"x10","type":"Immobile","t":30,"co2":1.06},{"thick":"x10","type":"Immobile","t":30.5,"co2":1.5},{"thick":"x10","type":"Immobile","t":31,"co2":2.2},{"thick":"x10","type":"Immobile","t":31.4,"co2":2.5},{"thick":"x10","type":"Immobile","t":32.4,"co2":2.59},{"thick":"x10","type":"Immobile","t":33.1,"co2":2.65},{"thick":"x10","type":"Immobile","t":34.5,"co2":2.75},{"thick":"x10","type":"Immobile","t":36,"co2":2.71},{"thick":"x10","type":"Immobile","t":37.7,"co2":2.78},{"thick":"x10","type":"Immobile","t":39.5,"co2":2.78},{"thick":"x10","type":"Immobile","t":40.8,"co2":2.87},{"thick":"x10","type":"Immobile","t":42,"co2":2.92},{"thick":"x10","type":"Immobile","t":43,"co2":2.89},{"thick":"x10","type":"Immobile","t":44,"co2":2.89},{"thick":"x10","type":"Immobile","t":45.5,"co2":2.98},{"thick":"x10","type":"Immobile","t":50.5,"co2":2.98}
]},
"data":{"name":"pts"},
"mark":{"type":"line","interpolate":"monotone","strokeWidth":3.5,"clip":true},
"encoding":{
"x":{"field":"t","type":"quantitative","scale":{"domain":[0,60]},
"axis":{"values":[0,10,20,30,40,50,60],"grid":true,"gridColor":"#898989","gridWidth":1.5,"domainColor":"#898989","domainWidth":1.5,"tickColor":"#898989","tickWidth":1.5,"tickSize":7,"labelFontSize":24,"labelColor":"black","labelPadding":11,"labelFlush":false,"title":"Time (years)","titleFontSize":26,"titleFontWeight":"bold","titleColor":"black","titleY":67,"titleBaseline":"middle"}},
"y":{"field":"co2","type":"quantitative","scale":{"domain":[0,6]},
"axis":{"values":[0,1,2,3,4,5,6],"grid":true,"gridColor":"#898989","gridWidth":1.5,"domainColor":"#898989","domainWidth":1.5,"tickColor":"#898989","tickWidth":1.5,"tickSize":7,"labelFontSize":24,"labelColor":"black","labelPadding":15,"labelFlush":false,"labelExpr":"datum.value == 0 ? '0' : datum.value + 'E+09'","title":["Amount of mobile, immobile and dissolved","CO₂ (KG-M)"],"titleFontSize":26,"titleFontWeight":"bold","titleColor":"black","titleLineHeight":28,"titleX":-138,"titleY":266,"titleAngle":-90,"titleBaseline":"middle","titleAlign":"center"}},
"color":{"field":"thick","type":"nominal","scale":{"domain":["x1","x3","x5","x7","x9","x10"],"range":["#878787","#92D050","#00B0F0","#00B050","#FFC000","#FF0000"]},
"legend":{"orient":"none","legendX":29,"legendY":21,"title":" ","titleFontSize":10,"titlePadding":9,"fillColor":"white","padding":15,"labelExpr":"'Thickness ' + datum.label","labelFontSize":26,"labelFontWeight":"bold","labelColor":"black","labelLimit":400,"symbolType":"M-9,0L9,0","symbolSize":100,"symbolStrokeWidth":3.5,"symbolOffset":35,"labelOffset":50,"rowPadding":5}},
"strokeDash":{"field":"type","type":"nominal","scale":{"domain":["Mobile","Dissolved","Immobile"],"range":[[1,0],[11,5],[26,11]]},
"legend":{"orient":"none","legendX":787,"legendY":31,"title":null,"fillColor":"white","padding":15,"labelExpr":"datum.label + ' CO₂'","labelFontSize":26,"labelFontWeight":"bold","labelColor":"black","labelLimit":400,"symbolType":"M-9.3,0L9.3,0","symbolSize":100,"symbolStrokeWidth":3.5,"symbolStrokeColor":"black","symbolOffset":33.5,"labelOffset":53,"rowPadding":6}}
}
}
